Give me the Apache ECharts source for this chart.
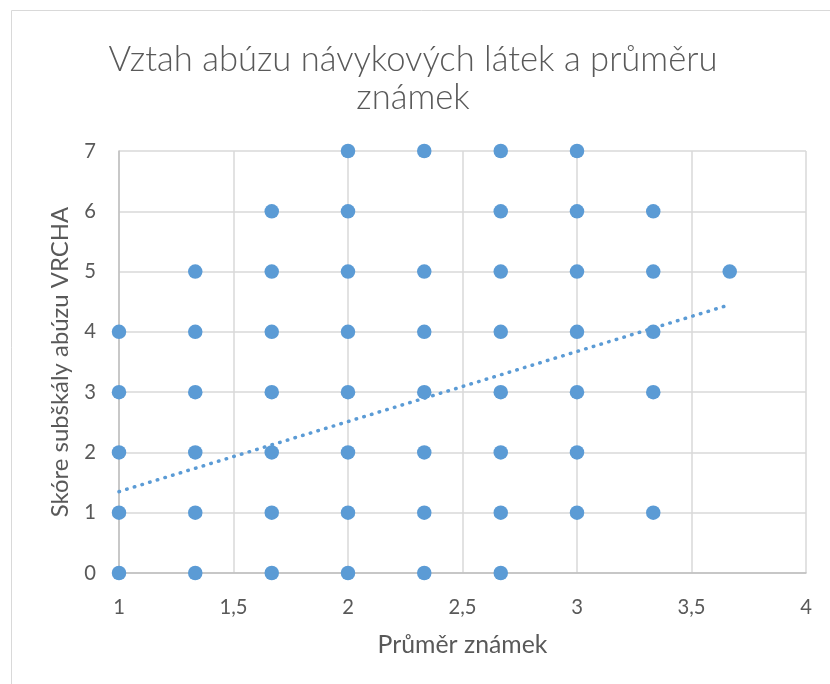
<!DOCTYPE html>
<html>
<head>
<meta charset="utf-8">
<script src="https://cdn.jsdelivr.net/npm/echarts@6/dist/echarts.min.js"></script>
<style>html,body{margin:0;padding:0;background:#fff}#c{width:830px;height:684px}</style>
</head>
<body>
<div id="c"></div>
<script>
// Grade averages (x) and the distinct subscale scores observed at each (y)
const gradeAverages = [1, 1.333, 1.667, 2, 2.333, 2.667, 3, 3.333, 3.667];
const scoresByGrade = [
  [0, 1, 2, 3, 4],
  [0, 1, 2, 3, 4, 5],
  [0, 1, 2, 3, 4, 5, 6],
  [0, 1, 2, 3, 4, 5, 6, 7],
  [0, 1, 2, 3, 4, 5, 7],
  [0, 1, 2, 3, 4, 5, 6, 7],
  [1, 2, 3, 4, 5, 6, 7],
  [1, 3, 4, 5, 6],
  [5]
];
// Linear trendline endpoints
const trendX = [1, 3.667];
const trendY = [1.35, 4.45];
const xTicks = [1, 1.5, 2, 2.5, 3, 3.5, 4];
const yTicks = [0, 1, 2, 3, 4, 5, 6, 7];
const titleLines = ['Vztah abúzu návykových látek a průměru', 'známek'];
const xTitle = 'Průměr známek';
const yTitle = 'Skóre subškály abúzu VRCHA';

const points = [];
gradeAverages.forEach((g, i) => scoresByGrade[i].forEach(s => points.push([g, s])));
const trend = trendX.map((x, i) => [x, trendY[i]]);

const FONT = "Lato, 'Open Sans', sans-serif";
const mctx = document.createElement('canvas').getContext('2d');
function fitSize(text, target, weight) {
  mctx.font = (weight || 'normal') + ' 100px ' + FONT;
  return Math.round(1000 * target / mctx.measureText(text).width) / 10;
}
const titleSize = fitSize(titleLines[0], 610, '300');
const xTitleSize = fitSize(xTitle, 170);
const yTitleSize = fitSize(yTitle, 310);
const tickSize = fitSize('3,5', 28);
const titleFont = '300 ' + titleSize + 'px ' + FONT;

const chart = echarts.init(document.getElementById('c'), null, {renderer: 'canvas'});
chart.setOption({
  animation: false,
  textStyle: {fontFamily: FONT},
  graphic: [
    {type: 'rect', shape: {x: 11.5, y: 10.5, width: 1000, height: 1000}, style: {fill: 'none', stroke: '#d9d9d9', lineWidth: 1}, silent: true},
    {type: 'text', x: 413, y: 60, style: {text: titleLines[0], fill: '#595959', font: titleFont, align: 'center', verticalAlign: 'middle'}, silent: true},
    {type: 'text', x: 413, y: 98, style: {text: titleLines[1], fill: '#595959', font: titleFont, align: 'center', verticalAlign: 'middle'}, silent: true}
  ],
  grid: {left: 119, right: 24, top: 151, bottom: 111, containLabel: false},
  xAxis: {
    type: 'value', min: xTicks[0], max: xTicks[xTicks.length - 1], interval: 0.5,
    name: xTitle, nameLocation: 'middle', nameGap: 60,
    nameTextStyle: {fontFamily: FONT, fontSize: xTitleSize, color: '#595959'},
    axisLine: {show: true, onZero: false, lineStyle: {color: '#bfbfbf', width: 1.5}},
    axisTick: {show: false},
    axisLabel: {fontFamily: FONT, fontSize: tickSize, color: '#595959', margin: 24, formatter: v => String(v).replace('.', ',')},
    splitLine: {show: true, lineStyle: {color: '#d9d9d9', width: 1.5}}
  },
  yAxis: {
    type: 'value', min: yTicks[0], max: yTicks[yTicks.length - 1], interval: 1,
    name: yTitle, nameLocation: 'middle', nameGap: 47,
    nameTextStyle: {fontFamily: FONT, fontSize: yTitleSize, color: '#595959'},
    axisLine: {show: true, onZero: false, lineStyle: {color: '#bfbfbf', width: 1.5}},
    axisTick: {show: false},
    axisLabel: {fontFamily: FONT, fontSize: tickSize, color: '#595959', margin: 23},
    splitLine: {show: true, lineStyle: {color: '#d9d9d9', width: 1.5}}
  },
  series: [
    {
      type: 'line', data: trend, symbol: 'none', silent: true, z: 3,
      lineStyle: {color: '#5b9bd5', width: 3.5, type: [0.5, 7.5], cap: 'round'}
    },
    {
      type: 'scatter', data: points, symbol: 'circle', symbolSize: 14.5, clip: false, z: 2,
      itemStyle: {color: '#5b9bd5', opacity: 1}
    }
  ]
});
</script>
</body>
</html>
